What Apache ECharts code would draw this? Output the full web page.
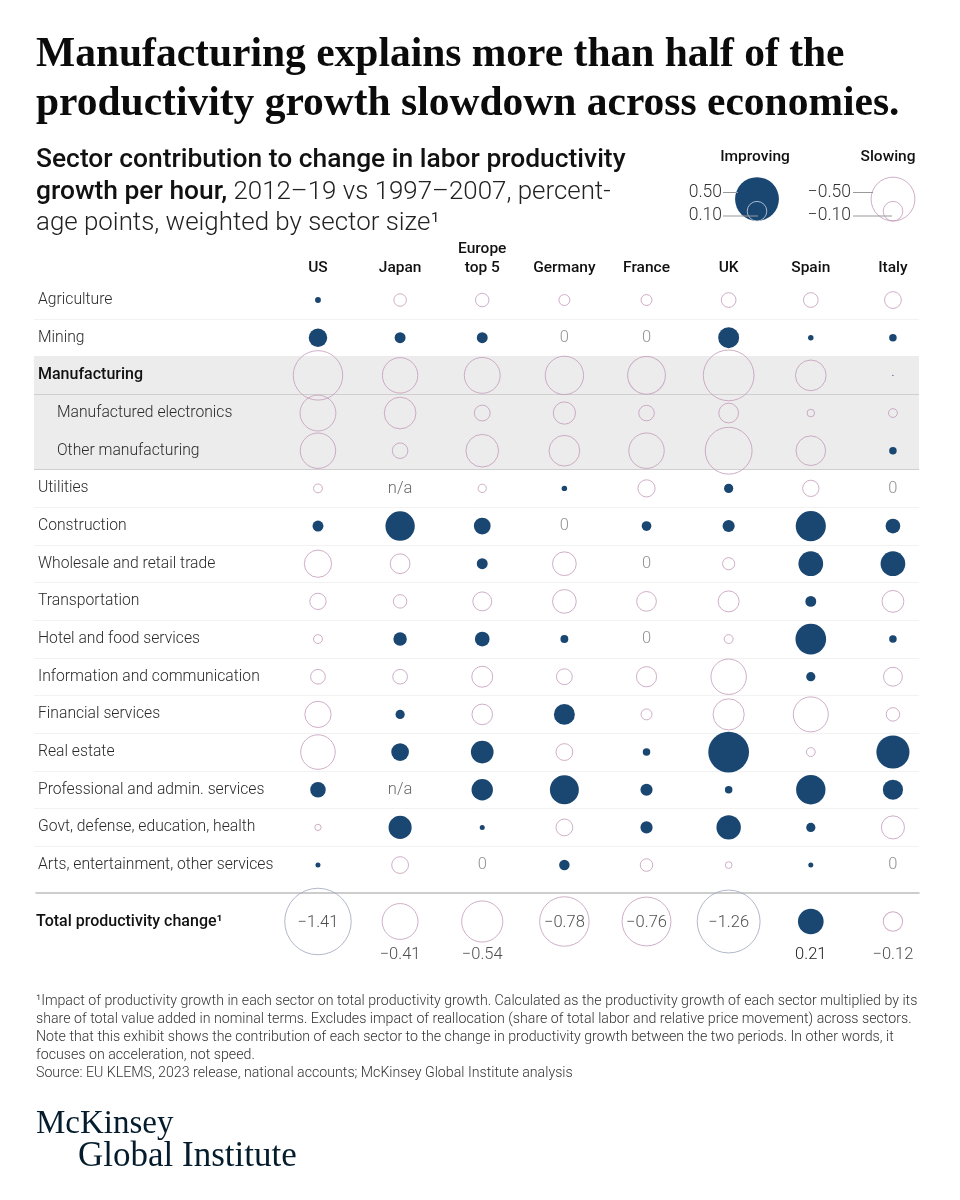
<!DOCTYPE html>
<html>
<head>
<meta charset="utf-8">
<style>
  html,body{margin:0;padding:0;background:#fff;}
  #chart{width:960px;height:1200px;}
</style>
<script src="https://cdn.jsdelivr.net/npm/echarts@6/dist/echarts.min.js"></script>
</head>
<body>
<div id="chart"></div>
<script>
var countries = ['US','Japan','Europe\ntop 5','Germany','France','UK','Spain','Italy'];
var sectors = ['Agriculture','Mining','Manufacturing','Manufactured electronics','Other manufacturing','Utilities','Construction','Wholesale and retail trade','Transportation','Hotel and food services','Information and communication','Financial services','Real estate','Professional and admin. services','Govt, defense, education, health','Arts, entertainment, other services'];

// values, null = n/a
var agriculture   = [0.011,-0.05,-0.058,-0.038,-0.038,-0.069,-0.069,-0.09];
var mining        = [0.109,0.038,0.038,0,0,0.14,0.0095,0.018];
var manufacturing = [-0.78,-0.40,-0.41,-0.47,-0.455,-0.82,-0.30,0.0005];
var electronics   = [-0.41,-0.32,-0.08,-0.158,-0.077,-0.124,-0.018,-0.025];
var otherManuf    = [-0.40,-0.077,-0.34,-0.30,-0.40,-0.70,-0.28,0.018];
var utilities     = [-0.025,null,-0.022,0.0095,-0.094,0.027,-0.085,0];
var construction  = [0.038,0.275,0.09,0,0.03,0.047,0.29,0.069];
var wholesale     = [-0.237,-0.124,0.038,-0.18,0,-0.047,0.195,0.195];
var transport     = [-0.085,-0.058,-0.114,-0.18,-0.124,-0.14,0.038,-0.152];
var hotel         = [-0.025,0.058,0.069,0.02,0,-0.025,0.30,0.018];
var information   = [-0.069,-0.069,-0.14,-0.08,-0.13,-0.40,0.027,-0.114];
var financial     = [-0.22,0.027,-0.135,0.14,-0.038,-0.31,-0.39,-0.058];
var realEstate    = [-0.38,0.10,0.164,-0.09,0.018,0.53,-0.025,0.35];
var professional  = [0.077,null,0.146,0.267,0.047,0.018,0.275,0.13];
var government    = [-0.0126,0.17,0.008,-0.09,0.047,0.19,0.027,-0.17];
var arts          = [0.008,-0.09,0,0.035,-0.05,-0.0144,0.008,0];
var totals        = [-1.41,-0.41,-0.54,-0.78,-0.76,-1.26,0.21,-0.12];
var legendValues  = [0.50,0.10];

var rows = [agriculture,mining,manufacturing,electronics,otherManuf,utilities,construction,wholesale,transport,hotel,information,financial,realEstate,professional,government,arts];

var NAVY = '#1a4672';
var PINK = '#c39ab9';
var SANS = 'Roboto, "Noto Sans", sans-serif';
var SERIF = '"Liberation Serif", serif';
var K = 56;        // bubble diameter for a value of 1 (area scale)
var LEGEND_K = 62;

function bubble(v){ return K * Math.sqrt(Math.abs(v)); }
function fmt(v){ return (v < 0 ? '\u2212' : '') + Math.abs(v).toFixed(2); }

var improving = [], slowing = [], noBubble = [];
rows.forEach(function(row, r){
  row.forEach(function(v, c){
    if (v === null) noBubble.push([c, r, 'n/a']);
    else if (v === 0) noBubble.push([c, r, '0']);
    else if (v > 0) improving.push([c, r, v]);
    else slowing.push([c, r, v]);
  });
});

// row backgrounds and rules, one entry per band / per line
var bandColors = sectors.map(function(s, i){ return (i >= 2 && i <= 4) ? '#ececec' : '#fff'; });
var ruleColors = [];
for (var i = 0; i <= sectors.length; i++) {
  if (i === 0 || i === sectors.length) ruleColors.push('#fff');
  else if (i === 3 || i === 5) ruleColors.push('#cfcfcf');
  else if (i === 2 || i === 4) ruleColors.push('#ececec');
  else ruleColors.push('#f2f2f2');
}

var ROW_TOP = 281.2, ROW_H = 602.7;
var TOTAL_TOP = 893, TOTAL_H = 57;
var COL_LEFT = 276.9, COL_W = 657.1;

var option = {
  animation: false,
  backgroundColor: '#fff',
  title: [
    {left: 36, top: 31, padding: 0, text: 'Manufacturing explains more than half of the\nproductivity growth slowdown across economies.',
      textStyle: {fontFamily: SERIF, fontWeight: 'bold', fontSize: 41.5, lineHeight: 49, color: '#0b0b0b'}},
    {left: 36, top: 145, padding: 0, text: '{b|Sector contribution to change in labor productivity}\n{b|growth per hour,} 2012\u201319 vs 1997\u20132007, percent-\nage points, weighted by sector size\u00b9',
      textStyle: {fontFamily: SANS, fontWeight: 300, fontSize: 25.9, lineHeight: 31.5, color: '#222',
        rich: {b: {fontFamily: SANS, fontWeight: 500, fontSize: 26.4, lineHeight: 31.5, color: '#111'}}}},
    {left: 36, top: 993, padding: 0, text: '\u00b9Impact of productivity growth in each sector on total productivity growth. Calculated as the productivity growth of each sector multiplied by its\nshare of total value added in nominal terms. Excludes impact of reallocation (share of total labor and relative price movement) across sectors.\nNote that this exhibit shows the contribution of each sector to the change in productivity growth between the two periods. In other words, it\nfocuses on acceleration, not speed.\nSource: EU KLEMS, 2023 release, national accounts; McKinsey Global Institute analysis',
      textStyle: {fontFamily: SANS, fontWeight: 300, fontSize: 14.2, lineHeight: 17.8, color: '#333'}},
    {left: 36, top: 1108, padding: 0, text: 'McKinsey', textStyle: {fontFamily: SERIF, fontWeight: 'normal', fontSize: 33, color: '#051c2c'}},
    {left: 78, top: 1139, padding: 0, text: 'Global Institute', textStyle: {fontFamily: SERIF, fontWeight: 'normal', fontSize: 35, color: '#051c2c'}}
  ],
  grid: [
    {left: 34, top: ROW_TOP, width: 885, height: ROW_H},
    {left: COL_LEFT, top: ROW_TOP, width: COL_W, height: ROW_H},
    {left: 36, top: TOTAL_TOP, width: 883, height: TOTAL_H},
    {left: COL_LEFT, top: TOTAL_TOP, width: COL_W, height: TOTAL_H},
    {left: 757, top: 178, width: 136, height: 43}
  ],
  xAxis: [
    {gridIndex: 0, type: 'category', data: [''], show: false},
    {gridIndex: 1, type: 'category', data: countries, position: 'top',
      axisLine: {show: false}, axisTick: {show: false},
      axisLabel: {interval: 0, margin: 4, fontFamily: SANS, fontWeight: 500, fontSize: 15.5, lineHeight: 19, color: '#111'}},
    {gridIndex: 2, type: 'category', data: [''], position: 'top',
      axisLine: {show: true, lineStyle: {color: '#bdbdbd', width: 1.5}}, axisTick: {show: false}, axisLabel: {show: false}},
    {gridIndex: 3, type: 'category', data: countries, show: false},
    {gridIndex: 4, type: 'category', data: ['Improving','Slowing'], boundaryGap: false, show: false}
  ],
  yAxis: [
    {gridIndex: 0, type: 'category', data: sectors, inverse: true,
      axisLine: {show: false}, axisTick: {show: false},
      splitArea: {show: true, areaStyle: {color: bandColors}},
      splitLine: {show: true, lineStyle: {color: ruleColors, width: 1}},
      axisLabel: {inside: true, interval: 0, margin: 4, fontFamily: SANS, fontWeight: 300, fontSize: 15.7, color: '#2a2a2a',
        formatter: function(name){
          if (name === 'Manufacturing') return '{b|' + name + '}';
          if (name === 'Manufactured electronics' || name === 'Other manufacturing') return '{i|' + name + '}';
          return name;
        },
        rich: {
          b: {fontFamily: SANS, fontWeight: 500, fontSize: 16, color: '#111'},
          i: {fontFamily: SANS, fontWeight: 300, fontSize: 15.7, color: '#2a2a2a', padding: [0,0,0,19]}
        }}},
    {gridIndex: 1, type: 'category', data: sectors, inverse: true, show: false},
    {gridIndex: 2, type: 'category', data: ['Total productivity change\u00b9'],
      axisLine: {show: false}, axisTick: {show: false},
      axisLabel: {inside: true, margin: 0, fontFamily: SANS, fontWeight: 500, fontSize: 16, color: '#111'}},
    {gridIndex: 3, type: 'category', data: ['total'], show: false},
    {gridIndex: 4, type: 'value', min: 0, max: 43 / (LEGEND_K / 2), show: false}
  ],
  series: [
    {name: 'Slowing', type: 'scatter', xAxisIndex: 1, yAxisIndex: 1, data: slowing, z: 3,
      symbolSize: function(d){ return bubble(d[2]); },
      itemStyle: {color: 'transparent', borderColor: PINK, borderWidth: 1}},
    {name: 'Improving', type: 'scatter', xAxisIndex: 1, yAxisIndex: 1, data: improving, z: 4,
      symbolSize: function(d){ return bubble(d[2]); },
      itemStyle: {color: NAVY, opacity: 1}},
    {name: 'No bubble', type: 'scatter', xAxisIndex: 1, yAxisIndex: 1, z: 4,
      data: noBubble.map(function(d){
        return {value: d, label: {color: d[2] === '0' ? '#777' : '#444'}};
      }),
      symbolSize: 0,
      label: {show: true, position: 'inside', formatter: function(p){ return p.value[2]; },
        fontFamily: SANS, fontWeight: 300, fontSize: 16.5}},
    {name: 'Total', type: 'scatter', xAxisIndex: 3, yAxisIndex: 3, z: 4,
      data: totals.map(function(v, c){
        return {value: [c, 0, v],
          itemStyle: v > 0 ? {color: NAVY, opacity: 1} : {color: 'transparent', borderWidth: 1, borderColor: v < -1 ? '#9fa6bd' : PINK}};
      }),
      symbolSize: function(d){ return bubble(d[2]); },
      label: {show: true, position: 'inside', fontFamily: SANS, fontWeight: 300, fontSize: 16.5, color: '#222',
        formatter: function(p){ return fmt(p.value[2]); }},
      // small bubbles carry their number below
      labelLayout: function(p){
        return {dy: Math.abs(totals[p.dataIndex]) < 0.7 ? 33 : 1.5};
      }},
    {name: 'Legend improving', type: 'scatter', xAxisIndex: 4, yAxisIndex: 4, z: 4, silent: true,
      data: legendValues.map(function(v, i){
        return {value: [0, Math.sqrt(v)], symbolSize: LEGEND_K * Math.sqrt(v),
          itemStyle: i === 0 ? {color: NAVY, opacity: 1} : {color: 'transparent', borderColor: '#c9d6e4', borderWidth: 1}};
      })},
    {name: 'Legend slowing', type: 'scatter', xAxisIndex: 4, yAxisIndex: 4, z: 4, silent: true,
      data: legendValues.map(function(v){
        return {value: [1, Math.sqrt(v)], symbolSize: LEGEND_K * Math.sqrt(v),
          itemStyle: {color: 'transparent', borderColor: PINK, borderWidth: 1}};
      })}
  ],
  graphic: [
    {type: 'text', x: 755, y: 157, z: 10, style: {text: 'Improving', align: 'center', verticalAlign: 'middle', font: '500 15.5px ' + SANS, fill: '#111'}},
    {type: 'text', x: 888, y: 157, z: 10, style: {text: 'Slowing', align: 'center', verticalAlign: 'middle', font: '500 15.5px ' + SANS, fill: '#111'}},
    {type: 'text', x: 722, y: 193, z: 10, style: {text: fmt(legendValues[0]), align: 'right', verticalAlign: 'middle', font: '300 17.5px ' + SANS, fill: '#333'}},
    {type: 'text', x: 722, y: 216, z: 10, style: {text: fmt(legendValues[1]), align: 'right', verticalAlign: 'middle', font: '300 17.5px ' + SANS, fill: '#333'}},
    {type: 'text', x: 851, y: 193, z: 10, style: {text: fmt(-legendValues[0]), align: 'right', verticalAlign: 'middle', font: '300 17.5px ' + SANS, fill: '#333'}},
    {type: 'text', x: 851, y: 216, z: 10, style: {text: fmt(-legendValues[1]), align: 'right', verticalAlign: 'middle', font: '300 17.5px ' + SANS, fill: '#333'}},
    {type: 'line', z: 10, shape: {x1: 723, y1: 192.5, x2: 738, y2: 192.5}, style: {stroke: '#999', lineWidth: 1}},
    {type: 'line', z: 10, shape: {x1: 723, y1: 216, x2: 758, y2: 216}, style: {stroke: '#999', lineWidth: 1}},
    {type: 'line', z: 10, shape: {x1: 853, y1: 192.5, x2: 873, y2: 192.5}, style: {stroke: '#999', lineWidth: 1}},
    {type: 'line', z: 10, shape: {x1: 853, y1: 216, x2: 892, y2: 216}, style: {stroke: '#999', lineWidth: 1}}
  ]
};

var myChart = echarts.init(document.getElementById('chart'));
myChart.setOption(option);
</script>
</body>
</html>
